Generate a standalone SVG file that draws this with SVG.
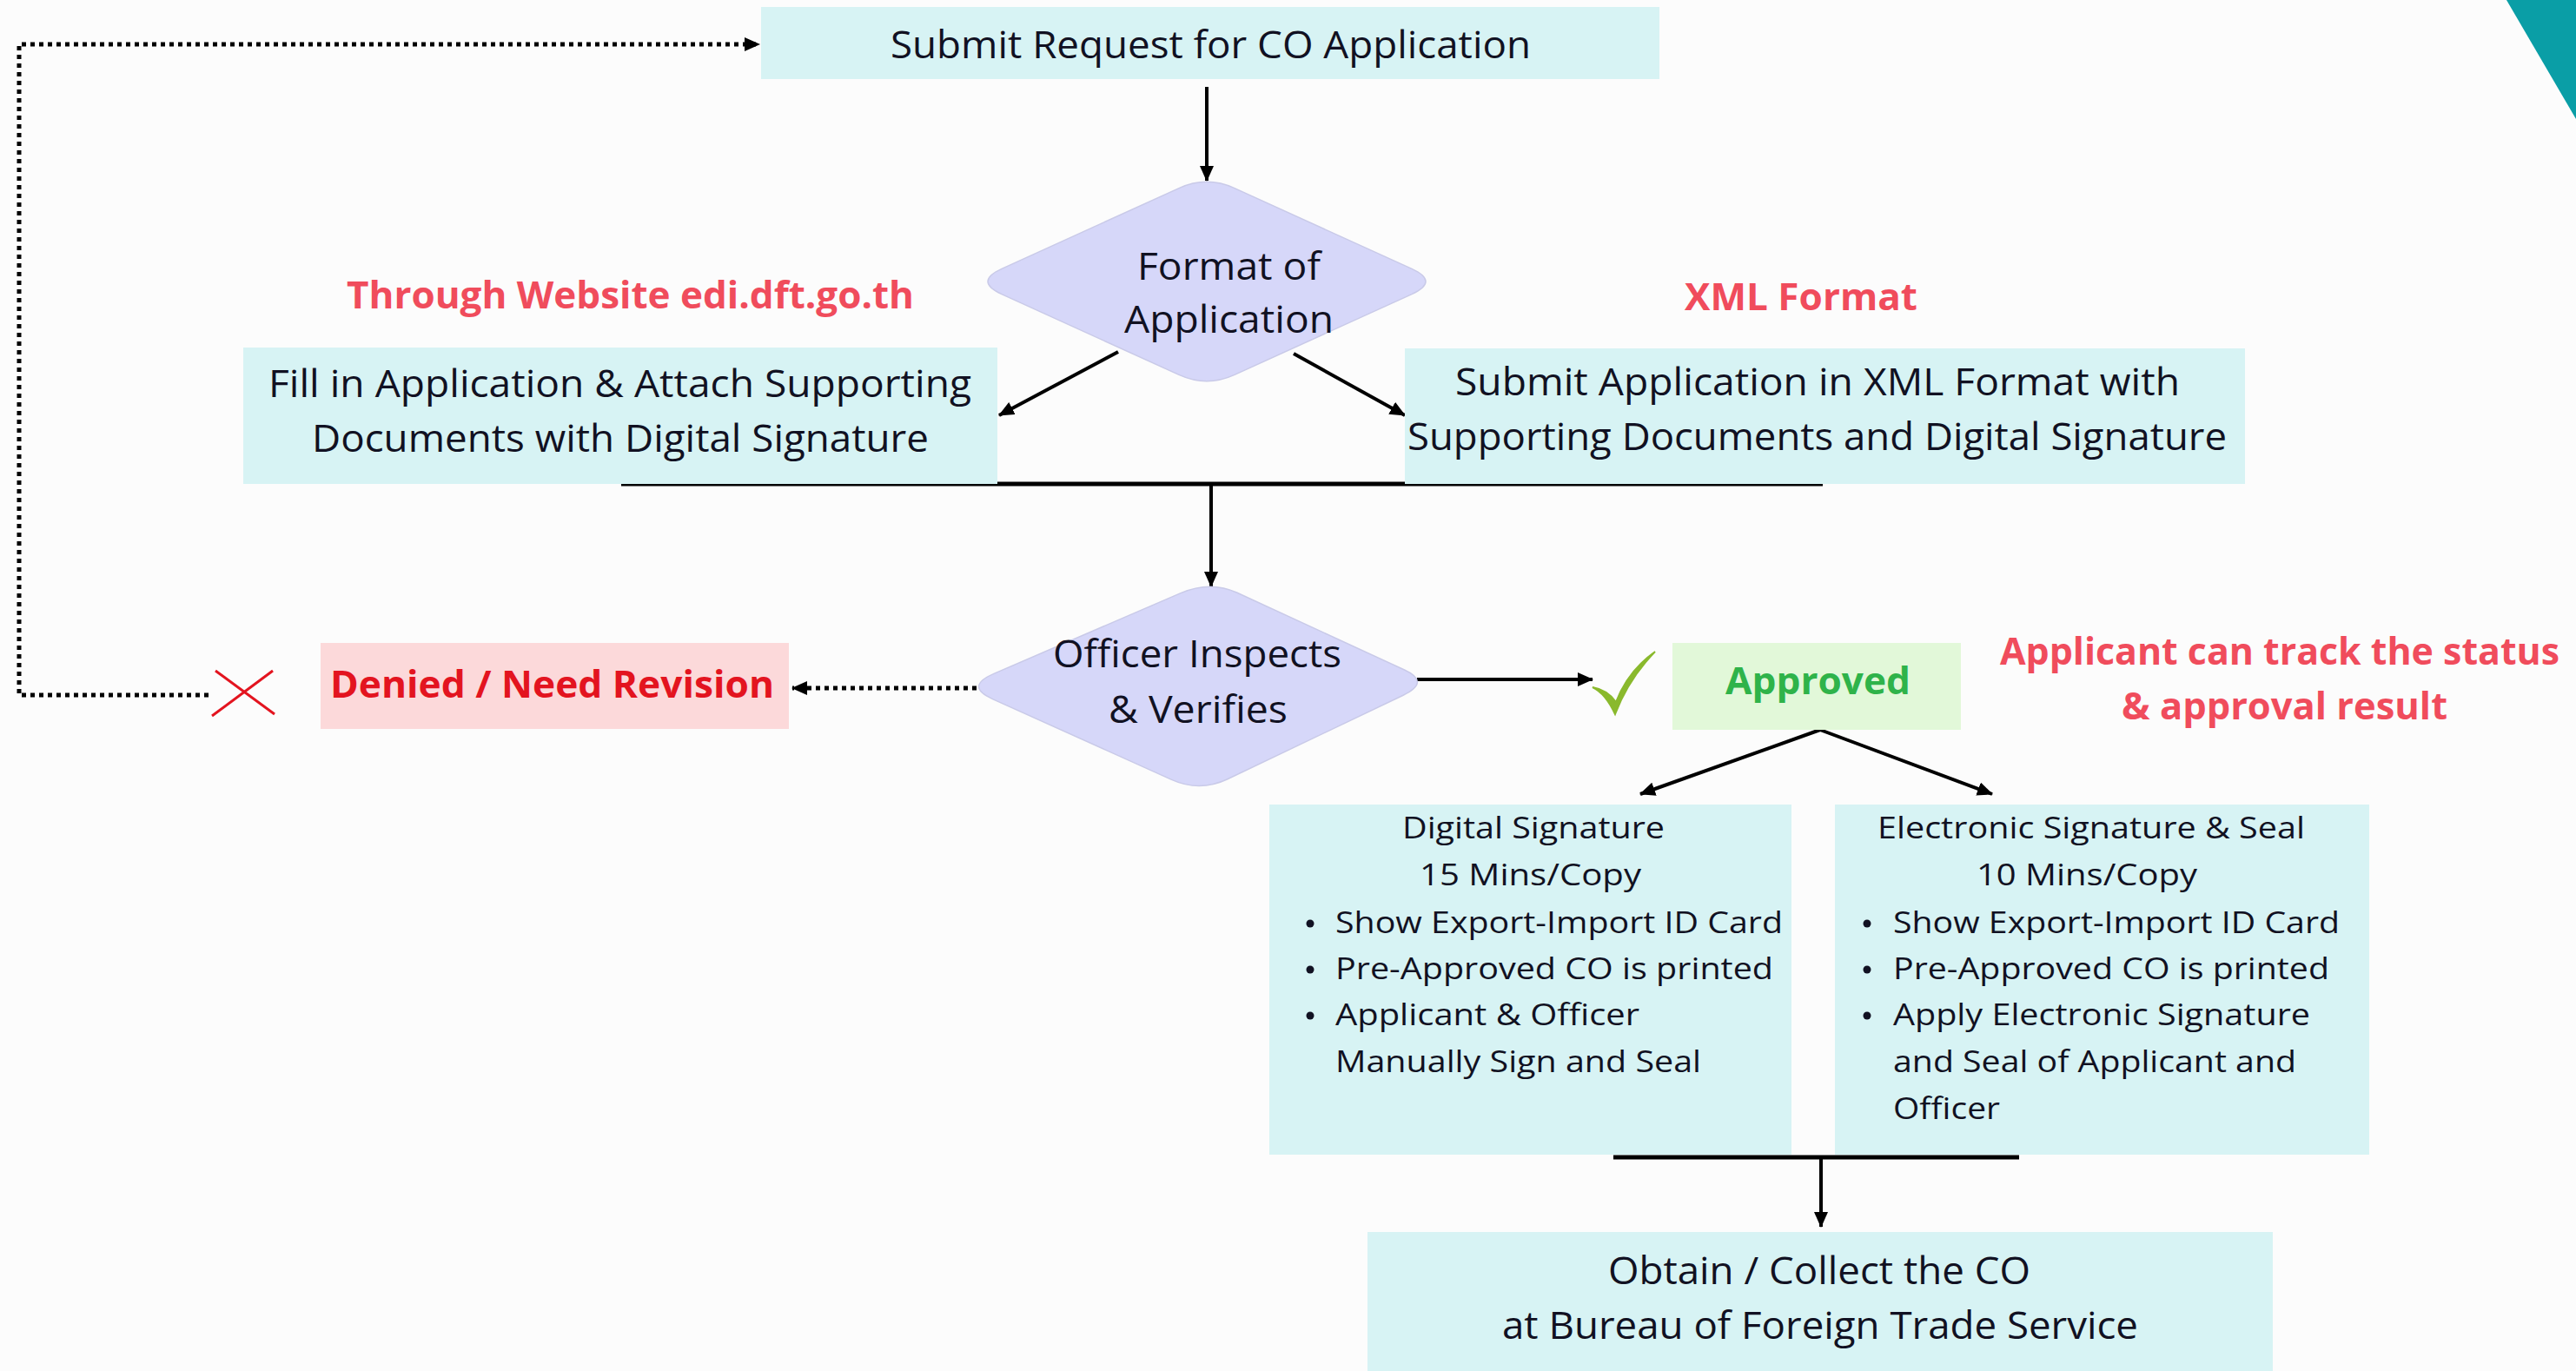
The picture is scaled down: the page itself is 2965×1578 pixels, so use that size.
<svg xmlns="http://www.w3.org/2000/svg" width="2965" height="1578" viewBox="0 0 2965 1578">
<style>
.t{font-family:"Open Sans","Liberation Sans",sans-serif;font-size:43px;fill:#111122;}
.s{font-family:"Open Sans","Liberation Sans",sans-serif;font-size:34px;fill:#111122;}
.b{font-weight:bold;}
.red{fill:#f04c5c;}
.box{fill:#d7f3f4;}
.dia{fill:#d6d7f9;stroke:#c9cae8;stroke-width:1.5;}
.ln{stroke:#000;stroke-width:4;fill:none;}
.bar{stroke:#000;stroke-width:5;fill:none;}
.dot{stroke:#000;stroke-width:5;fill:none;stroke-dasharray:5 5;}
</style>
<defs>
<marker id="ah" viewBox="0 0 18 16" refX="17" refY="8" markerWidth="18" markerHeight="16" markerUnits="userSpaceOnUse" orient="auto">
<path d="M0,0 L18,8 L0,16 Z" fill="#000"/>
</marker>
</defs>
<rect width="2965" height="1578" fill="#fcfcfc"/>
<polygon points="2885,0 2965,0 2965,137" fill="#0a9ea6"/>

<g id="connectors">
<line class="ln" x1="1389" y1="100" x2="1389" y2="208" marker-end="url(#ah)"/>
<line class="ln" x1="1287" y1="405" x2="1150" y2="478" marker-end="url(#ah)"/>
<line class="ln" x1="1489" y1="407" x2="1617" y2="478" marker-end="url(#ah)"/>
<line class="bar" x1="715" y1="557" x2="2098" y2="557"/>
<line class="ln" x1="1394" y1="557" x2="1394" y2="675" marker-end="url(#ah)"/>
<line class="dot" x1="1124" y1="792" x2="912" y2="792" marker-end="url(#ah)"/>
<path class="dot" d="M240,800 L22,800 L22,51 L874,51" marker-end="url(#ah)"/>
<line class="ln" x1="1631" y1="782" x2="1833" y2="782" marker-end="url(#ah)"/>
<line class="ln" x1="2095" y1="840" x2="1888" y2="914" marker-end="url(#ah)"/>
<line class="ln" x1="2095" y1="840" x2="2293" y2="914" marker-end="url(#ah)"/>
<line class="bar" x1="1857" y1="1332" x2="2324" y2="1332"/>
<line class="ln" x1="2096" y1="1332" x2="2096" y2="1412" marker-end="url(#ah)"/>
</g>

<g id="submit-request">
<rect class="box" x="876" y="8" width="1034" height="83"/>
<text class="t" x="1025" y="67" textLength="737" lengthAdjust="spacingAndGlyphs">Submit Request for CO Application</text>
</g>

<g id="format-of-application">
<path class="dia" transform="translate(1389,324)" d="M-32,-107.4 Q0,-122 32,-107.4 L236,-14.6 Q268,0 236,14.6 L32,107.4 Q0,122 -32,107.4 L-236,14.6 Q-268,0 -236,-14.6 Z"/>
<text class="t" x="1309" y="322" textLength="211" lengthAdjust="spacingAndGlyphs">Format of</text>
<text class="t" x="1294" y="383" textLength="241" lengthAdjust="spacingAndGlyphs">Application</text>
</g>

<g id="label-website">
<text class="t b red" x="399" y="355" textLength="653" lengthAdjust="spacingAndGlyphs">Through Website edi.dft.go.th</text>
</g>
<g id="label-xml">
<text class="t b red" x="1939" y="357" textLength="268" lengthAdjust="spacingAndGlyphs">XML Format</text>
</g>

<g id="fill-in-application">
<rect class="box" x="280" y="400" width="868" height="157"/>
<text class="t" x="309" y="457" textLength="809" lengthAdjust="spacingAndGlyphs">Fill in Application &amp; Attach Supporting</text>
<text class="t" x="359" y="520" textLength="710" lengthAdjust="spacingAndGlyphs">Documents with Digital Signature</text>
</g>

<g id="submit-xml">
<rect class="box" x="1617" y="401" width="967" height="156"/>
<text class="t" x="1675" y="455" textLength="834" lengthAdjust="spacingAndGlyphs">Submit Application in XML Format with</text>
<text class="t" x="1620" y="518" textLength="943" lengthAdjust="spacingAndGlyphs">Supporting Documents and Digital Signature</text>
</g>

<g id="officer-inspects">
<path class="dia" d="M1359,682.6 Q1393,668 1423.5,682 L1616.5,771 Q1647,785 1615.1,800.2 L1412.9,896.8 Q1381,912 1348.5,897.4 L1142.5,804.6 Q1110,790 1144,775.4 Z"/>
<text class="t" x="1212" y="768" textLength="332" lengthAdjust="spacingAndGlyphs">Officer Inspects</text>
<text class="t" x="1276" y="832" textLength="206" lengthAdjust="spacingAndGlyphs">&amp; Verifies</text>
</g>

<g id="denied">
<rect x="369" y="740" width="539" height="99" fill="#fcd9da"/>
<text class="t b" x="380" y="803" textLength="511" lengthAdjust="spacingAndGlyphs" style="fill:#e3141f">Denied / Need Revision</text>
</g>

<g id="cross">
<line x1="248" y1="772" x2="316" y2="822" stroke="#e3141f" stroke-width="3"/>
<line x1="314" y1="772" x2="244" y2="824" stroke="#e3141f" stroke-width="3"/>
</g>

<g id="check">
<path d="M1833,791 Q1848,798 1859,822 Q1874,782 1905,750 Q1874,772 1860,808 Q1850,794 1833,791 Z" fill="#8ab92d" stroke="#8ab92d" stroke-width="2"/>
</g>

<g id="approved">
<rect x="1925" y="740" width="332" height="100" fill="#e2f8d9"/>
<text class="t b" x="1986" y="799" textLength="213" lengthAdjust="spacingAndGlyphs" style="fill:#2fb34a">Approved</text>
</g>

<g id="label-track">
<text class="t b red" x="2302" y="765" textLength="644" lengthAdjust="spacingAndGlyphs">Applicant can track the status</text>
<text class="t b red" x="2442" y="828" textLength="375" lengthAdjust="spacingAndGlyphs">&amp; approval result</text>
</g>

<g id="digital-signature">
<rect class="box" x="1461" y="926" width="601" height="403"/>
<text class="s" x="1614" y="965" textLength="302" lengthAdjust="spacingAndGlyphs">Digital Signature</text>
<text class="s" x="1634" y="1019" textLength="255" lengthAdjust="spacingAndGlyphs">15 Mins/Copy</text>
<circle cx="1508" cy="1063" r="4.5" fill="#111122"/>
<circle cx="1508" cy="1116" r="4.5" fill="#111122"/>
<circle cx="1508" cy="1169" r="4.5" fill="#111122"/>
<text class="s" x="1537" y="1074" textLength="515" lengthAdjust="spacingAndGlyphs">Show Export-Import ID Card</text>
<text class="s" x="1537" y="1127" textLength="504" lengthAdjust="spacingAndGlyphs">Pre-Approved CO is printed</text>
<text class="s" x="1537" y="1180" textLength="350" lengthAdjust="spacingAndGlyphs">Applicant &amp; Officer</text>
<text class="s" x="1537" y="1234" textLength="421" lengthAdjust="spacingAndGlyphs">Manually Sign and Seal</text>
</g>

<g id="electronic-signature">
<rect class="box" x="2112" y="926" width="615" height="403"/>
<text class="s" x="2161" y="965" textLength="492" lengthAdjust="spacingAndGlyphs">Electronic Signature &amp; Seal</text>
<text class="s" x="2275" y="1019" textLength="254" lengthAdjust="spacingAndGlyphs">10 Mins/Copy</text>
<circle cx="2149" cy="1063" r="4.5" fill="#111122"/>
<circle cx="2149" cy="1116" r="4.5" fill="#111122"/>
<circle cx="2149" cy="1169" r="4.5" fill="#111122"/>
<text class="s" x="2179" y="1074" textLength="514" lengthAdjust="spacingAndGlyphs">Show Export-Import ID Card</text>
<text class="s" x="2179" y="1127" textLength="502" lengthAdjust="spacingAndGlyphs">Pre-Approved CO is printed</text>
<text class="s" x="2179" y="1180" textLength="480" lengthAdjust="spacingAndGlyphs">Apply Electronic Signature</text>
<text class="s" x="2179" y="1234" textLength="464" lengthAdjust="spacingAndGlyphs">and Seal of Applicant and</text>
<text class="s" x="2179" y="1288" textLength="123" lengthAdjust="spacingAndGlyphs">Officer</text>
</g>

<g id="obtain-co">
<rect class="box" x="1574" y="1418" width="1042" height="160"/>
<text class="t" x="1851" y="1478" textLength="486" lengthAdjust="spacingAndGlyphs">Obtain / Collect the CO</text>
<text class="t" x="1729" y="1541" textLength="732" lengthAdjust="spacingAndGlyphs">at Bureau of Foreign Trade Service</text>
</g>
</svg>
